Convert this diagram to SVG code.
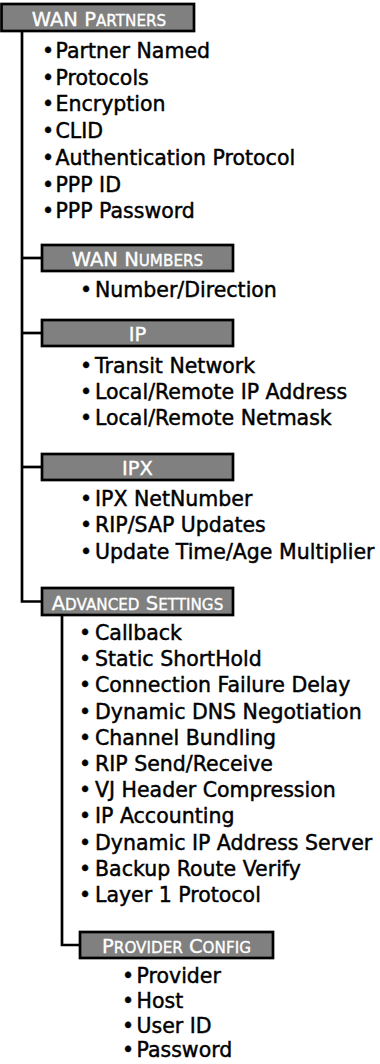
<svg xmlns="http://www.w3.org/2000/svg" width="380" height="1064" viewBox="0 0 380 1064">
<style>
.box{fill:#808080;stroke:#000;stroke-width:2.7}
.hd{font-family:"DejaVu Sans",sans-serif;font-size:19.5px;fill:#fff;stroke:#fff;stroke-width:0.35;text-anchor:middle}
.sc{font-size:15.2px}
.it{font-family:"DejaVu Sans",sans-serif;font-size:20.5px;fill:#000;stroke:#000;stroke-width:0.45}
.ln{fill:none;stroke:#000;stroke-width:2.7}
</style>
<rect width="380" height="1064" fill="#fff"/>
<g id="connectors">
<path class="ln" d="M22,31 V601.5 H42"/>
<path class="ln" d="M22,258 H42"/>
<path class="ln" d="M22,333 H42"/>
<path class="ln" d="M22,467 H42"/>
<path class="ln" d="M62,615 V945 H80"/>
</g>
<g id="wan-partners">
<rect class="box" x="1.5" y="4" width="192.5" height="27"/>
<text class="hd" x="99" y="26">WAN P<tspan class="sc">ARTNERS</tspan></text>
<text class="it" y="58"><tspan x="42">•</tspan><tspan x="55.5">Partner Named</tspan></text>
<text class="it" y="84.7"><tspan x="42">•</tspan><tspan x="55.5">Protocols</tspan></text>
<text class="it" y="111.4"><tspan x="42">•</tspan><tspan x="55.5">Encryption</tspan></text>
<text class="it" y="138"><tspan x="42">•</tspan><tspan x="55.5">CLID</tspan></text>
<text class="it" y="164.8"><tspan x="42">•</tspan><tspan x="55.5">Authentication Protocol</tspan></text>
<text class="it" y="191.5"><tspan x="42">•</tspan><tspan x="55.5">PPP ID</tspan></text>
<text class="it" y="218.2"><tspan x="42">•</tspan><tspan x="55.5">PPP Password</tspan></text>
</g>
<g id="wan-numbers">
<rect class="box" x="42" y="245" width="191" height="26"/>
<text class="hd" x="137.5" y="266">WAN N<tspan class="sc">UMBERS</tspan></text>
<text class="it" y="297"><tspan x="80">•</tspan><tspan x="95">Number/Direction</tspan></text>
</g>
<g id="ip">
<rect class="box" x="42" y="320" width="191" height="26"/>
<text class="hd" x="137.5" y="341">IP</text>
<text class="it" y="373"><tspan x="80">•</tspan><tspan x="95">Transit Network</tspan></text>
<text class="it" y="399"><tspan x="80">•</tspan><tspan x="95">Local/Remote IP Address</tspan></text>
<text class="it" y="425"><tspan x="80">•</tspan><tspan x="95">Local/Remote Netmask</tspan></text>
</g>
<g id="ipx">
<rect class="box" x="42" y="454" width="191" height="26"/>
<text class="hd" x="137.5" y="475">IPX</text>
<text class="it" y="506"><tspan x="80">•</tspan><tspan x="95">IPX NetNumber</tspan></text>
<text class="it" y="532"><tspan x="80">•</tspan><tspan x="95">RIP/SAP Updates</tspan></text>
<text class="it" y="558.5"><tspan x="80">•</tspan><tspan x="95">Update Time/Age Multiplier</tspan></text>
</g>
<g id="advanced-settings">
<rect class="box" x="42" y="588" width="191" height="27"/>
<text class="hd" x="137.5" y="610">A<tspan class="sc">DVANCED</tspan> S<tspan class="sc">ETTINGS</tspan></text>
<text class="it" y="640"><tspan x="79">•</tspan><tspan x="95">Callback</tspan></text>
<text class="it" y="666.2"><tspan x="79">•</tspan><tspan x="95">Static ShortHold</tspan></text>
<text class="it" y="692.4"><tspan x="79">•</tspan><tspan x="95">Connection Failure Delay</tspan></text>
<text class="it" y="718.6"><tspan x="79">•</tspan><tspan x="95">Dynamic DNS Negotiation</tspan></text>
<text class="it" y="744.8"><tspan x="79">•</tspan><tspan x="95">Channel Bundling</tspan></text>
<text class="it" y="771"><tspan x="79">•</tspan><tspan x="95">RIP Send/Receive</tspan></text>
<text class="it" y="797.2"><tspan x="79">•</tspan><tspan x="95">VJ Header Compression</tspan></text>
<text class="it" y="823.4"><tspan x="79">•</tspan><tspan x="95">IP Accounting</tspan></text>
<text class="it" y="849.6"><tspan x="79">•</tspan><tspan x="95">Dynamic IP Address Server</tspan></text>
<text class="it" y="875.8"><tspan x="79">•</tspan><tspan x="95">Backup Route Verify</tspan></text>
<text class="it" y="902"><tspan x="79">•</tspan><tspan x="95">Layer 1 Protocol</tspan></text>
</g>
<g id="provider-config">
<rect class="box" x="80" y="932" width="193" height="26"/>
<text class="hd" x="176.5" y="953">P<tspan class="sc">ROVIDER</tspan> C<tspan class="sc">ONFIG</tspan></text>
<text class="it" y="983"><tspan x="122">•</tspan><tspan x="136.5">Provider</tspan></text>
<text class="it" y="1008"><tspan x="122">•</tspan><tspan x="136.5">Host</tspan></text>
<text class="it" y="1033"><tspan x="122">•</tspan><tspan x="136.5">User ID</tspan></text>
<text class="it" y="1057"><tspan x="122">•</tspan><tspan x="136.5">Password</tspan></text>
</g>
</svg>
